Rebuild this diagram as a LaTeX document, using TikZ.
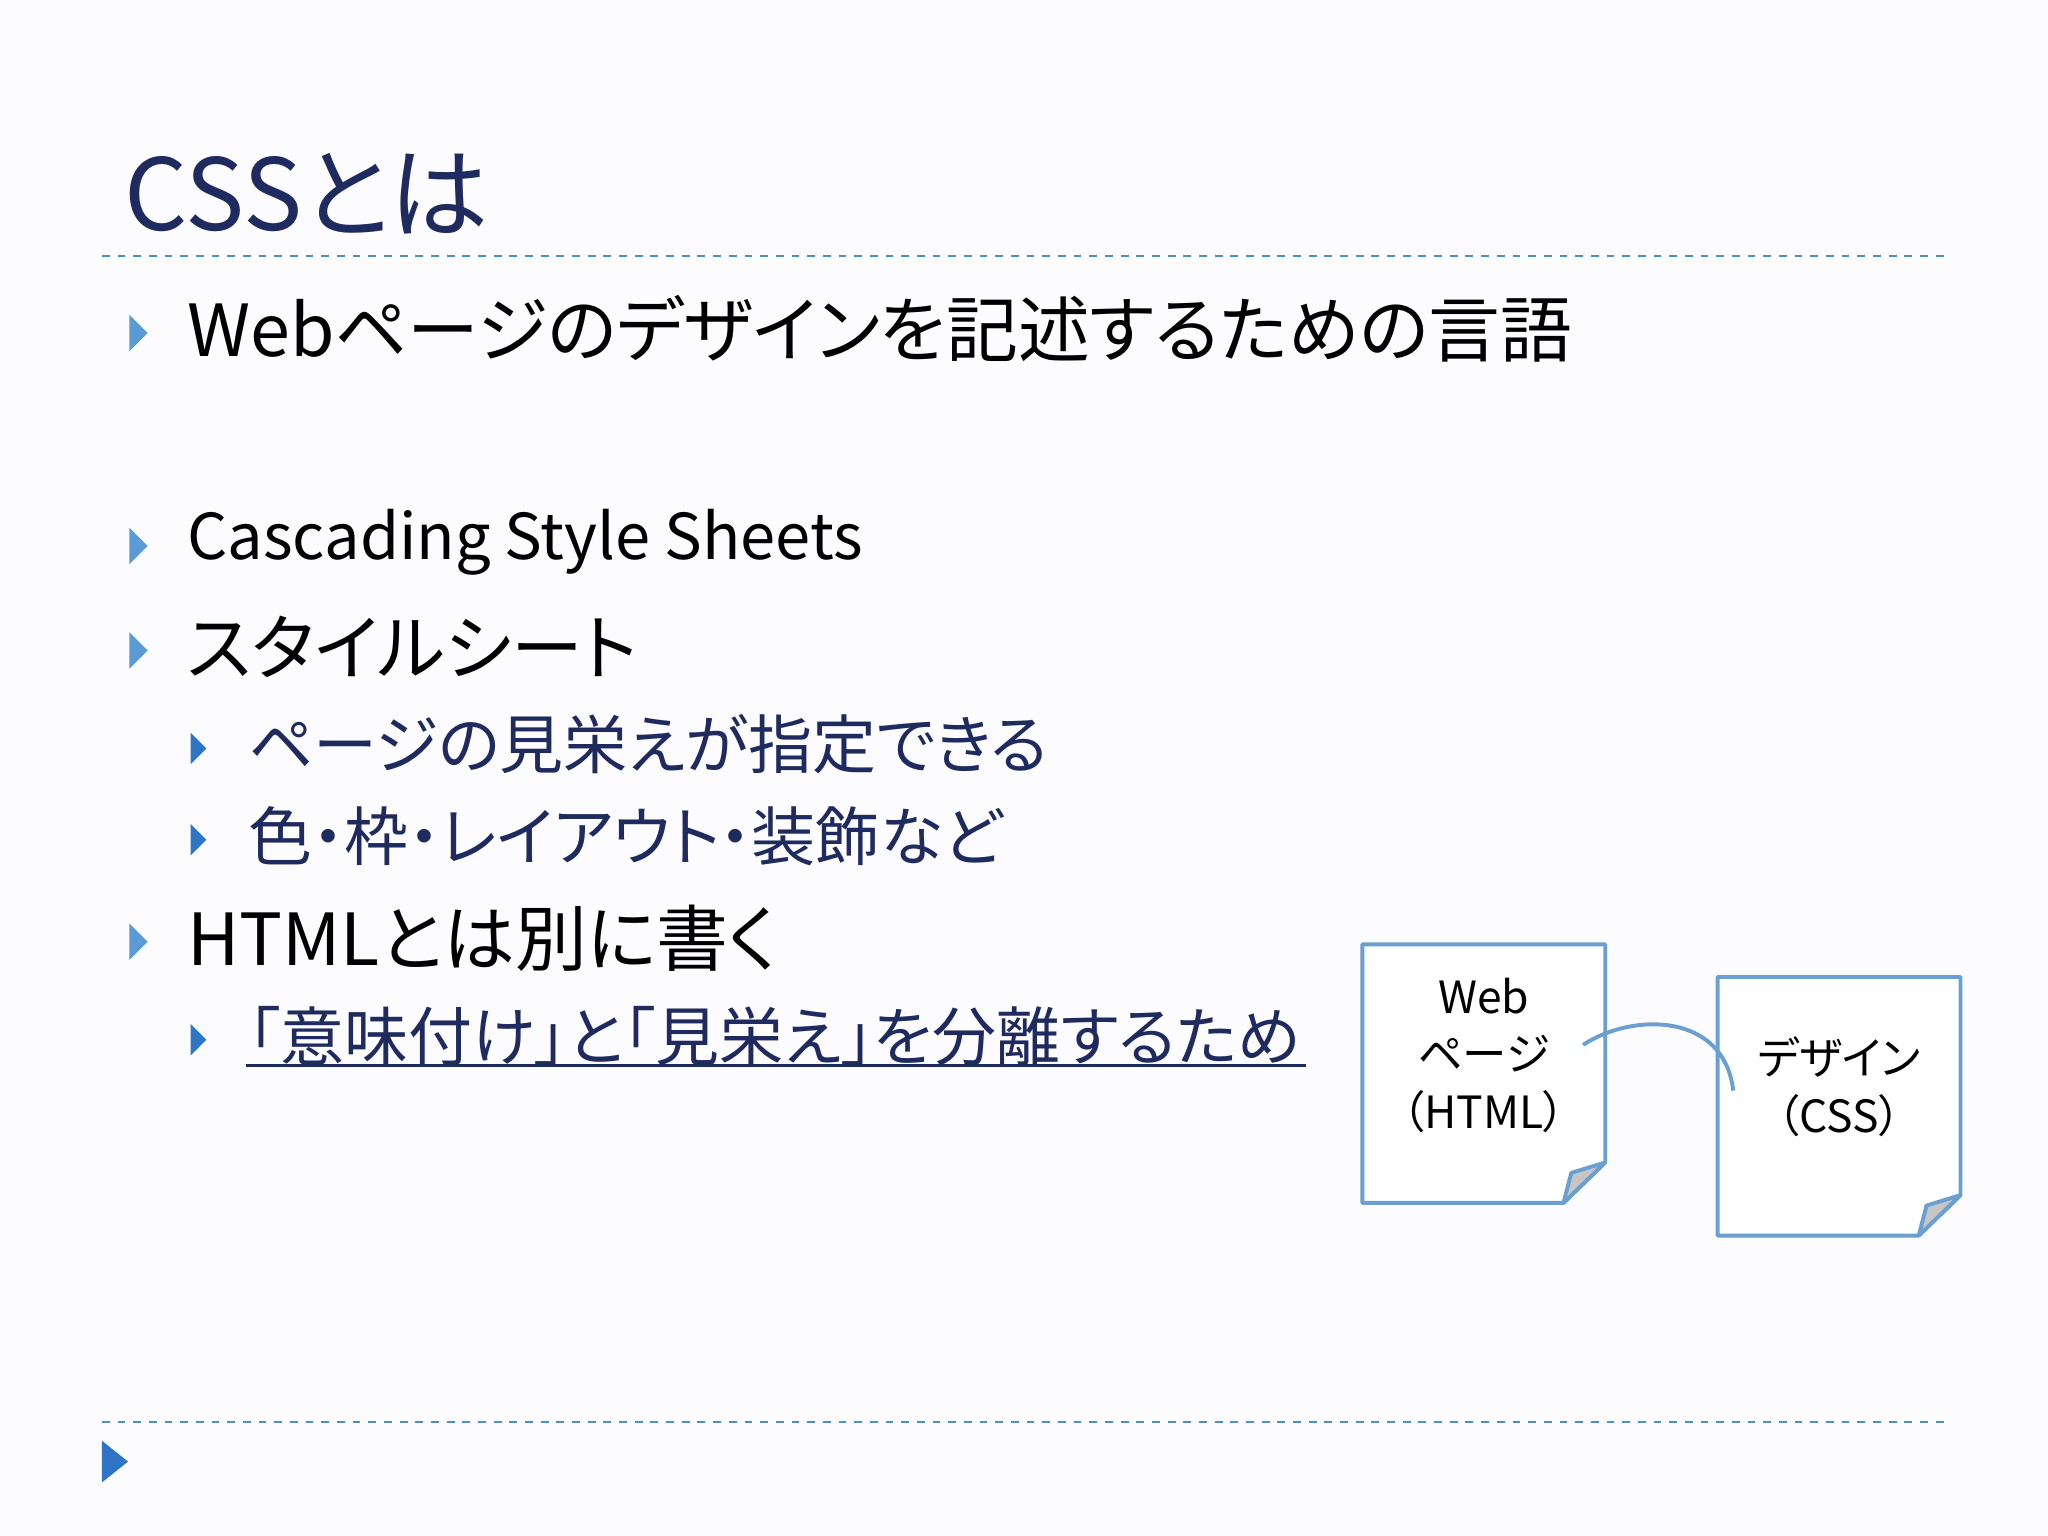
\documentclass[tikz,border=0pt]{standalone}
\usepackage{fontspec}
\setmainfont[RawFeature=+palt]{Noto Sans CJK JP}
\begin{document}
\begin{tikzpicture}[x=0.5pt,y=-0.5pt,line join=round,
  txt/.style={anchor=west,inner sep=0pt,font=\fontsize{27.5}{30}\selectfont},
  subtxt/.style={anchor=west,inner sep=0pt,text=navy,font=\fontsize{24.5}{28}\selectfont},
  doc/.style={draw=docc,line width=1.5pt,fill=white},
  dtxt/.style={align=center,inner sep=0pt,font=\fontsize{17}{22}\selectfont}]
\definecolor{navy}{HTML}{1F2A5E}
\definecolor{bulc}{HTML}{5B9BD5}
\definecolor{subbul}{HTML}{2E75C6}
\definecolor{docc}{HTML}{6A9FD2}
\definecolor{dashc}{HTML}{4A90C0}
\fill[fill={rgb,255:red,252;green,252;blue,255}] (0,0) rectangle (1568,1176);
\useasboundingbox (0,0) rectangle (1568,1176);
\node[anchor=west,inner sep=0pt,text=navy,font=\fontsize{38}{44}\selectfont] (title) at (95,148) {CSSとは};
\draw[dashc,dashed,line width=0.8pt] (78,196) -- (1490,196);
\draw[dashc,dashed,line width=0.8pt] (78,1089) -- (1490,1089);
\fill[subbul] (78,1103) -- (98,1119) -- (78,1135) -- cycle;
\foreach \y in {255,418,498,721} \fill[bulc] (99,\y-14) -- (113,\y) -- (99,\y+14) -- cycle;
\foreach \y in {573,643,796} \fill[subbul] (146,\y-12) -- (158,\y) -- (146,\y+12) -- cycle;
\node[txt] (l1) at (143,252) {Webページのデザインを記述するための言語};
\node[txt,font=\fontsize{24.2}{30}\selectfont] (l2) at (143,415) {Cascading Style Sheets};
\node[txt] (l3) at (143,495) {スタイルシート};
\node[subtxt] (s1) at (190,570) {ページの見栄えが指定できる};
\node[subtxt] (s2) at (190,640) {色・枠・レイアウト・装飾など};
\node[txt] (l4) at (143,718) {HTMLとは別に書く};
\node[subtxt] (s3) at (190,793) {「意味付け」と「見栄え」を分離するため};
\draw[navy,line width=1pt] (188,816) -- (1000,816);
\draw[doc] (1043,723) -- (1229,723) -- (1229,890) -- (1197,921) -- (1043,921) -- cycle;
\filldraw[draw=docc,line width=1.5pt,fill=gray!45] (1229,890) -- (1203,898) -- (1197,921) -- cycle;
\draw[doc] (1315,748) -- (1501,748) -- (1501,915) -- (1469,946) -- (1315,946) -- cycle;
\filldraw[draw=docc,line width=1.5pt,fill=gray!45] (1501,915) -- (1475,923) -- (1469,946) -- cycle;
\node[dtxt] (d1) at (1136,808) {Web\\ページ\\（HTML）};
\node[dtxt] (d2) at (1408,832) {デザイン\\（CSS）};
\draw[docc,line width=1.5pt] (1212,800) .. controls (1250,775) and (1320,775) .. (1327,835);
\end{tikzpicture}
\end{document}
